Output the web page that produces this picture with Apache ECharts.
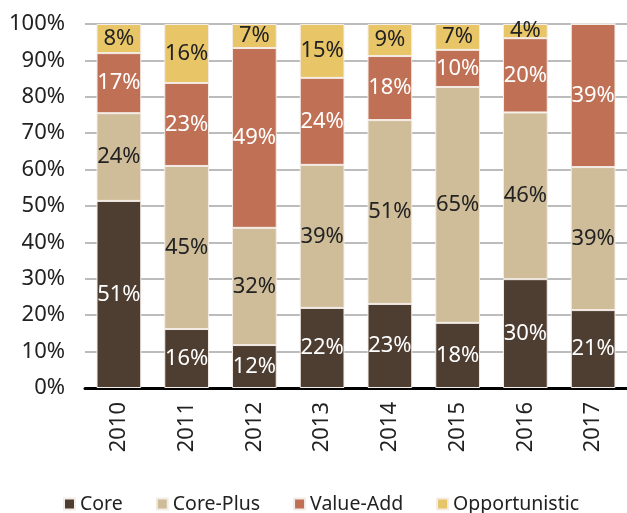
<!DOCTYPE html>
<html>
<head>
<meta charset="utf-8">
<script src="https://cdn.jsdelivr.net/npm/echarts@6/dist/echarts.min.js"></script>
<style>
  html, body { margin: 0; padding: 0; background: #fff; }
  #chart { width: 627px; height: 513px; }
</style>
</head>
<body>
<div id="chart"></div>
<script>
var years = ['2010', '2011', '2012', '2013', '2014', '2015', '2016', '2017'];
var core = [51.4, 16.2, 11.8, 22.0, 23.1, 17.9, 29.9, 21.4];
var corePlus = [24.1, 44.8, 32.2, 39.3, 50.5, 64.8, 45.8, 39.3];
var valueAdd = [16.5, 22.8, 49.4, 23.9, 17.6, 10.2, 20.4, 39.3];
var opportunistic = [8.0, 16.2, 6.6, 14.8, 8.8, 7.1, 3.9, 0];

var seriesNames = ['Core', 'Core-Plus', 'Value-Add', 'Opportunistic'];
var seriesData = [core, corePlus, valueAdd, opportunistic];
var colors = ['#4e3d31', '#cfbd9a', '#c07055', '#e8c566'];
var labelColors = ['#ffffff', '#222222', '#ffffff', '#222222'];

var chart = echarts.init(document.getElementById('chart'));

var series = seriesNames.map(function (name, i) {
    return {
        name: name,
        type: 'bar',
        stack: 'total',
        barWidth: '66%',
        data: seriesData[i],
        itemStyle: {
            color: colors[i],
            borderColor: '#f4ece6',
            borderWidth: 1
        },
        label: {
            show: true,
            position: 'inside',
            color: labelColors[i],
            fontSize: 22,
            fontFamily: 'Noto Sans',
            formatter: function (p) {
                return p.value > 0 ? Math.round(p.value) + '%' : '';
            }
        }
    };
});

chart.setOption({
    animation: false,
    color: colors,
    grid: { left: 85, right: 0, top: 24, bottom: 125 },
    legend: {
        top: 489,
        left: 58,
        itemWidth: 11,
        itemHeight: 11,
        itemGap: 33,
        icon: 'rect',
        textStyle: { fontSize: 19.5, color: '#222', fontFamily: 'Noto Sans' },
        data: seriesNames
    },
    xAxis: {
        type: 'category',
        data: years,
        axisLine: { lineStyle: { color: '#000', width: 3 } },
        axisTick: { show: false },
        axisLabel: {
            rotate: 90,
            fontSize: 22,
            color: '#222',
            fontFamily: 'Noto Sans',
            margin: 14
        }
    },
    yAxis: {
        type: 'value',
        min: 0,
        max: 100,
        interval: 10,
        axisLine: { show: false },
        axisTick: { show: false },
        splitLine: { lineStyle: { color: '#bcbcbc', width: 2 } },
        axisLabel: {
            fontSize: 22,
            color: '#222',
            fontFamily: 'Noto Sans',
            margin: 20,
            formatter: '{value}%'
        }
    },
    series: series
});
</script>
</body>
</html>
